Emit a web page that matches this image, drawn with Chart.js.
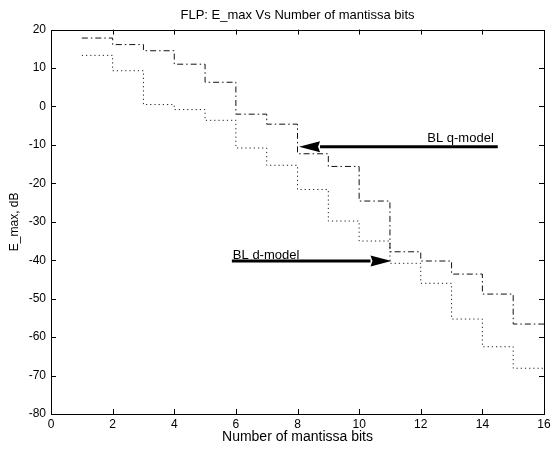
<!DOCTYPE html>
<html>
<head>
<meta charset="utf-8">
<script src="https://cdn.jsdelivr.net/npm/chart.js@4/dist/chart.umd.min.js"></script>
<style>
  html, body { margin: 0; padding: 0; background: #fff; }
  #wrap { width: 556px; height: 450px; }
</style>
</head>
<body>
<div id="wrap"><canvas id="grafico" width="556" height="450"></canvas></div>
<script>
/* ----- Datos ----- */
// cada escalón empieza en bits[i] y dura hasta el siguiente
const bits = [1, 2, 3, 4, 5, 6, 7, 8, 9, 10, 11, 12, 13, 14, 15];
const qModel = [17.8, 16.1, 14.5, 11.0, 6.3, -2.0, -4.6, -12.3, -15.6, -24.6, -37.8, -40.2, -43.6, -48.8, -56.6];
const dModel = [13.3, 9.3, 0.5, -0.8, -3.6, -10.8, -15.3, -21.6, -29.8, -35.0, -40.8, -46.0, -55.3, -62.5, -68.1];
const lastBit = 16;

const xTicks = [0, 2, 4, 6, 8, 10, 12, 14, 16];
const yTicks = [20, 10, 0, -10, -20, -30, -40, -50, -60, -70, -80];

// anotaciones (en coordenadas de datos)
const flechaQ = { texto: "BL q-model", desde: [14.5, -10.5], hasta: [8.05, -10.5] };
const flechaD = { texto: "BL d-model", desde: [5.87, -40.2], hasta: [11.05, -40.2] };

const FUENTE = "'Liberation Sans', Arial, Helvetica, sans-serif";

function puntos(vals) {
    const p = vals.map((v, i) => ({ x: bits[i], y: v }));
    p.push({ x: lastBit, y: vals[vals.length - 1] });
    return p;
}

/* ----- Marco, ticks internos y flechas ----- */
const marcoPlugin = {
    id: "marco",
    afterDatasetsDraw(chart) {
        const ctx = chart.ctx;
        const a = chart.chartArea;
        const sx = chart.scales.x, sy = chart.scales.y;
        ctx.save();
        ctx.strokeStyle = "#000";
        ctx.lineWidth = 1;
        ctx.strokeRect(Math.round(a.left) + 0.5, Math.round(a.top) + 0.5,
                       Math.round(a.right - a.left), Math.round(a.bottom - a.top));
        const tl = 5;
        ctx.beginPath();
        xTicks.slice(1, -1).forEach(v => {
            const px = Math.round(sx.getPixelForValue(v)) + 0.5;
            ctx.moveTo(px, a.bottom); ctx.lineTo(px, a.bottom - tl);
            ctx.moveTo(px, a.top); ctx.lineTo(px, a.top + tl);
        });
        yTicks.slice(1, -1).forEach(v => {
            const py = Math.round(sy.getPixelForValue(v)) + 0.5;
            ctx.moveTo(a.left, py); ctx.lineTo(a.left + tl, py);
            ctx.moveTo(a.right, py); ctx.lineTo(a.right - tl, py);
        });
        ctx.stroke();

        [flechaQ, flechaD].forEach((f, k) => {
            const x0 = sx.getPixelForValue(f.desde[0]), y0 = sy.getPixelForValue(f.desde[1]);
            const x1 = sx.getPixelForValue(f.hasta[0]), y1 = sy.getPixelForValue(f.hasta[1]);
            const dir = Math.sign(x1 - x0);
            const largo = 21, alto = 5.5;
            ctx.lineWidth = 3;
            ctx.beginPath();
            ctx.moveTo(x0, y0);
            ctx.lineTo(x1 - dir * largo, y1);
            ctx.stroke();
            ctx.fillStyle = "#000";
            ctx.beginPath();
            ctx.moveTo(x1, y1);
            ctx.lineTo(x1 - dir * largo, y1 - alto);
            ctx.lineTo(x1 - dir * (largo - 2), y1);
            ctx.lineTo(x1 - dir * largo, y1 + alto);
            ctx.closePath();
            ctx.fill();
            ctx.font = "13px " + FUENTE;
            ctx.textBaseline = "alphabetic";
            if (k === 0) {
                ctx.textAlign = "right";
                ctx.fillText(f.texto, x0 - 4, y0 - 5);
            } else {
                ctx.textAlign = "left";
                ctx.fillText(f.texto, x0 + 1, y0 - 2);
            }
        });
        ctx.restore();
    }
};

Chart.defaults.color = "#000";
Chart.defaults.font.family = FUENTE;
Chart.defaults.font.size = 12;

new Chart(document.getElementById("grafico"), {
    type: "line",
    data: {
        datasets: [{
            label: "BL q-model",
            data: puntos(qModel),
            borderColor: "#111",
            borderWidth: 1,
            borderDash: [6, 3, 1.5, 3],
            stepped: "before",
            pointRadius: 0,
            fill: false
        }, {
            label: "BL d-model",
            data: puntos(dModel),
            borderColor: "#222",
            borderWidth: 1,
            borderDash: [1.2, 3],
            stepped: "before",
            pointRadius: 0,
            fill: false
        }]
    },
    options: {
        responsive: false,
        animation: false,
        layout: { padding: { left: 0, right: 12, top: 0, bottom: 0 } },
        plugins: {
            legend: { display: false },
            tooltip: { enabled: false },
            title: {
                display: true,
                fullSize: false,
                text: "FLP: E_max Vs Number of mantissa bits",
                font: { size: 13, weight: "normal" },
                padding: { top: 8, bottom: 6 }
            }
        },
        scales: {
            x: {
                type: "linear",
                min: 0, max: 16,
                afterBuildTicks: s => { s.ticks = xTicks.map(v => ({ value: v })); },
                afterFit: s => { s.height = 36; },
                grid: { display: false, drawTicks: false },
                border: { display: false },
                ticks: { padding: 3, maxRotation: 0, autoSkip: false },
                title: { display: true, text: "Number of mantissa bits", font: { size: 14 }, padding: { top: 0, bottom: 4 } }
            },
            y: {
                type: "linear",
                min: -80, max: 20,
                afterBuildTicks: s => { s.ticks = yTicks.map(v => ({ value: v })); },
                afterFit: s => { s.width = 51; },
                grid: { display: false, drawTicks: false },
                border: { display: false },
                ticks: { padding: 5, autoSkip: false },
                title: { display: true, text: "E_max, dB", font: { size: 12 }, padding: { top: 7, bottom: 0 } }
            }
        }
    },
    plugins: [marcoPlugin]
});
</script>
</body>
</html>
